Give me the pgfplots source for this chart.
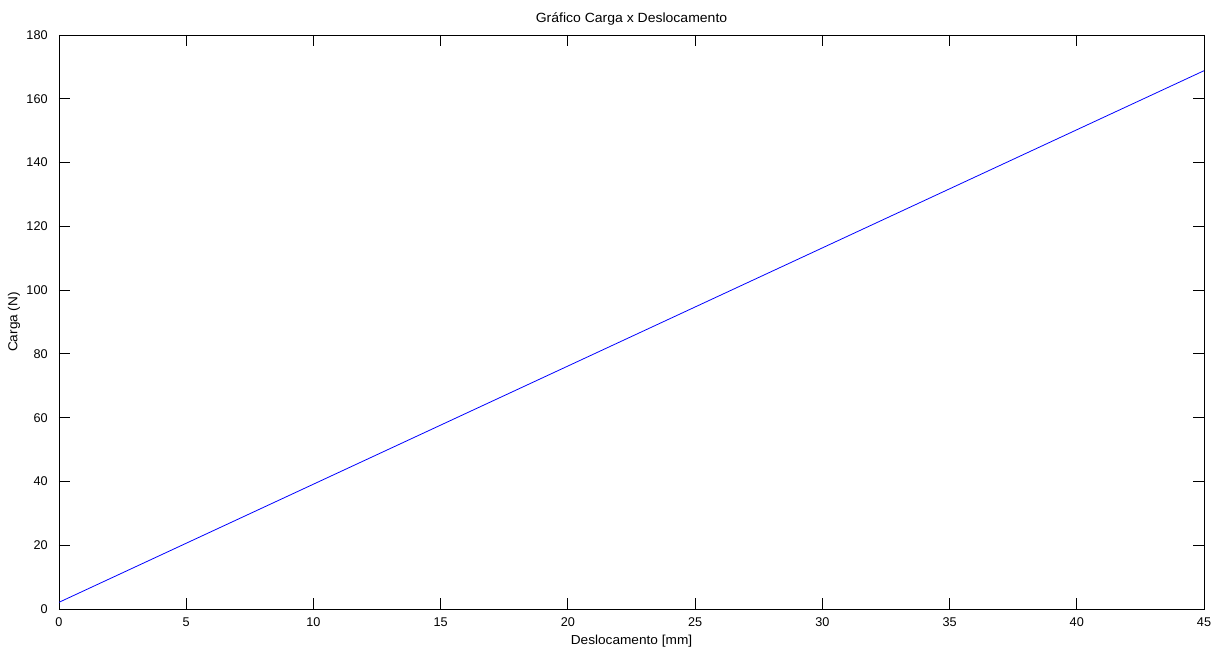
\documentclass[border=0pt]{standalone}
\usepackage{pgfplots}
\pgfplotsset{compat=1.18}
\usepackage{fontspec}
\setmainfont{Liberation Sans}
\newfontfamily\wide{Liberation Sans}[FakeStretch=1.05]
\begin{document}
\begin{tikzpicture}
\begin{axis}[
  scale only axis,
  width=858.75pt, height=430.5pt,
  xmin=0, xmax=45, ymin=0, ymax=180,
  xtick={0,5,...,45}, ytick={0,20,...,180},
  tick align=inside,
  major tick length=8pt,
  tick style={black, line width=0.6pt},
  axis line style={line width=0.6pt},
  /pgf/number format/assume math mode=true,
  tick label style={font=\fontsize{9.5}{11}\selectfont},
  title style={font=\wide\fontsize{10}{12}\selectfont, yshift=-2pt},
  title={Gráfico Carga x Deslocamento},
  xlabel={Deslocamento [mm]},
  ylabel={Carga (N)},
  xlabel style={font=\wide\fontsize{9.75}{11}\selectfont, at={(axis description cs:0.5,-0.061)}, anchor=base},
  ylabel style={font=\wide\fontsize{9.75}{11}\selectfont, at={(axis description cs:-0.0393,0.5)}, anchor=center},
  xticklabel style={anchor=base, yshift=-12.75pt},
  yticklabel style={xshift=-5pt},
]
\addplot[blue, line width=0.6pt] coordinates {(0,2.1) (45,168.8)};
\coordinate (sw) at (rel axis cs:0,0);
\coordinate (ne) at (rel axis cs:1,1);
\end{axis}
\pgfresetboundingbox
\path ([shift={(-44.25pt,-27.75pt)}]sw) rectangle ([shift={(5.25pt,26.25pt)}]ne);
\end{tikzpicture}
\end{document}
